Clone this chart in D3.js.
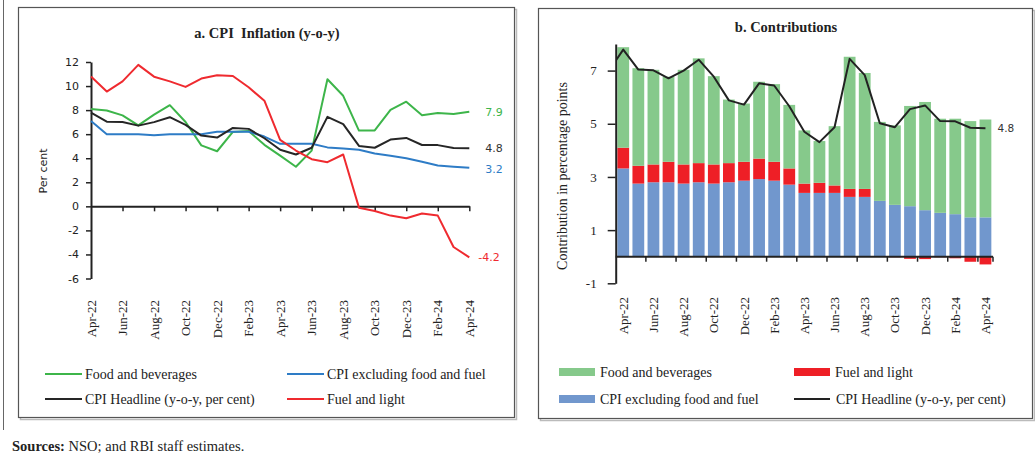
<!DOCTYPE html>
<html>
<head>
<meta charset="utf-8">
<script src="https://cdn.jsdelivr.net/npm/d3@7"></script>
<style>
body{margin:0;background:#fff;}
svg text{fill:#222;}
</style>
</head>
<body>
<div id="chart"></div>
<script>
// Months shown on both panels
var months = ["Apr-22","May-22","Jun-22","Jul-22","Aug-22","Sep-22","Oct-22","Nov-22","Dec-22","Jan-23","Feb-23","Mar-23",
	"Apr-23","May-23","Jun-23","Jul-23","Aug-23","Sep-23","Oct-23","Nov-23","Dec-23","Jan-24","Feb-24","Mar-24","Apr-24"];

// Panel a: y-o-y inflation, per cent
var foodBev  = [8.10,7.97,7.56,6.73,7.62,8.41,7.01,5.07,4.58,6.19,6.26,5.11,4.22,3.29,4.63,10.57,9.19,6.30,6.31,8.02,8.70,7.58,7.76,7.68,7.87];
var coreCpi  = [7.1,6.0,6.0,6.0,5.9,6.0,6.0,6.0,6.2,6.2,6.2,5.8,5.2,5.2,5.2,4.9,4.8,4.7,4.4,4.2,4.0,3.7,3.4,3.3,3.2];
var headline = [7.79,7.04,7.01,6.71,7.00,7.41,6.77,5.88,5.72,6.52,6.44,5.66,4.70,4.31,4.87,7.44,6.83,5.02,4.87,5.55,5.69,5.10,5.09,4.85,4.83];
var fuelLight= [10.80,9.54,10.39,11.76,10.78,10.39,9.93,10.62,10.90,10.84,9.90,8.78,5.52,4.64,3.92,3.67,4.31,-0.11,-0.39,-0.77,-0.99,-0.60,-0.77,-3.38,-4.24];
var leftTicks = [-6,-4,-2,0,2,4,6,8,10,12];

// Panel b: contributions, percentage points
var contribCore = [3.32,2.75,2.80,2.80,2.75,2.80,2.75,2.80,2.86,2.92,2.86,2.71,2.40,2.40,2.40,2.25,2.25,2.10,1.95,1.90,1.75,1.65,1.60,1.48,1.48];
var contribFuel = [0.78,0.67,0.67,0.77,0.72,0.72,0.72,0.72,0.71,0.77,0.71,0.61,0.35,0.38,0.28,0.30,0.30,-0.01,-0.02,-0.08,-0.09,-0.02,-0.06,-0.19,-0.29];
var contribFood = [3.78,3.67,3.56,3.20,3.56,3.94,3.32,2.39,2.19,2.89,2.92,2.39,2.00,1.57,2.23,4.97,4.36,2.97,2.99,3.77,4.07,3.54,3.59,3.62,3.68];
var headlinePrev = 6.95;   // Mar-22, only its cut-off segment shows at the left edge of panel b
var rightTicks = [-1,1,3,5,7];

var serif = "'Liberation Serif','Times New Roman',serif";
var sans = "'DejaVu Sans',Verdana,sans-serif";

var svg = d3.select("#chart").append("svg").attr("width",1035).attr("height",456);

// outer frame line on the left
svg.append("line").attr("x1",3.5).attr("x2",3.5).attr("y1",0).attr("y2",430)
	.attr("stroke","#666").attr("stroke-width",1);

function panelBox(x,y,w,h){
	svg.append("rect").attr("x",x+2).attr("y",y+2).attr("width",w).attr("height",h)
		.attr("fill","none").attr("stroke","#bbb").attr("stroke-width",1.5);
	svg.append("rect").attr("x",x).attr("y",y).attr("width",w).attr("height",h)
		.attr("fill","#fff").attr("stroke","#555").attr("stroke-width",1.2);
}

function evenMonths(){
	return months.filter(function(d,i){ return i%2==0; });
}

//////////////////////////////////// Panel a ///////////////////////////////

function drawLeft(){
	panelBox(18.5,7.5,496,410);
	var g = svg.append("g");
	var x = d3.scalePoint().domain(months).range([91,469.3]);
	var y = d3.scaleLinear().domain([-6,12]).range([278.5,62]);

	g.append("text").attr("x",267).attr("y",38).attr("text-anchor","middle")
		.style("font-family",serif).style("font-size","14.5px").style("font-weight","bold")
		.style("white-space","pre").text("a. CPI  Inflation (y-o-y)");

	var yAxis = g.append("g").attr("transform","translate(91,0)")
		.call(d3.axisLeft(y).tickValues(leftTicks).tickSize(5).tickSizeOuter(0).tickPadding(7)
			.tickFormat(function(d){ return String(d); }));
	yAxis.selectAll("text").style("font-family",sans).style("font-size","11px").style("fill","#222");
	yAxis.select(".domain").attr("stroke","#222").attr("stroke-width",2);
	yAxis.selectAll(".tick line").attr("stroke","#222").attr("stroke-width",1.5);

	g.append("text").attr("transform","translate(47,171) rotate(-90)").attr("text-anchor","middle")
		.style("font-family",sans).style("font-size","11px").text("Per cent");

	// x axis sits on zero, labels go below the plot
	var xAxis = g.append("g").attr("transform","translate(0,"+y(0)+")")
		.call(d3.axisBottom(x).tickValues(evenMonths().slice(1)).tickSize(5).tickSizeOuter(0).tickFormat(""));
	xAxis.select(".domain").attr("stroke","#222").attr("stroke-width",2);
	xAxis.selectAll(".tick line").attr("stroke","#222").attr("stroke-width",1.5);

	g.selectAll("text.xlab").data(evenMonths()).enter().append("text").attr("class","xlab")
		.attr("transform",function(d){ return "translate("+x(d)+",300) rotate(-90)"; })
		.attr("text-anchor","end").attr("dy","0.35em")
		.style("font-family",serif).style("font-size","13px").text(String);

	var series = [
		{vals:foodBev, color:"#3db54a", label:"7.9", dy:4},
		{vals:coreCpi, color:"#2e7cc6", label:"3.2", dy:5},
		{vals:headline, color:"#262626", label:"4.8", dy:4},
		{vals:fuelLight, color:"#ef2a2f", label:"-4.2", dy:4}
	];
	var line = d3.line().x(function(d,i){ return x(months[i]); }).y(function(d){ return y(d); });
	series.forEach(function(s){
		g.append("path").datum(s.vals).attr("d",line).attr("fill","none")
			.attr("stroke",s.color).attr("stroke-width",2).attr("stroke-linejoin","round");
		var last = s.vals[s.vals.length-1];
		g.append("text").attr("x",x(months[months.length-1])+(last<0?9:16)).attr("y",y(last)+s.dy)
			.style("font-family",sans).style("font-size","11px").style("fill",s.color=="#262626"?"#333":s.color)
			.text(s.label);
	});

	// legend
	var legend = [
		{name:"Food and beverages", color:"#3db54a", lx:45, ly:374},
		{name:"CPI excluding food and fuel", color:"#2e7cc6", lx:287, ly:374},
		{name:"CPI Headline (y-o-y, per cent)", color:"#262626", lx:45, ly:399},
		{name:"Fuel and light", color:"#ef2a2f", lx:287, ly:399}
	];
	legend.forEach(function(l){
		g.append("line").attr("x1",l.lx).attr("x2",l.lx+37).attr("y1",l.ly).attr("y2",l.ly)
			.attr("stroke",l.color).attr("stroke-width",2);
		g.append("text").attr("x",l.lx+40).attr("y",l.ly+4.5)
			.style("font-family",serif).style("font-size","14px").text(l.name);
	});
}

//////////////////////////////////// Panel b ///////////////////////////////

function drawRight(){
	panelBox(538.5,8.5,494,410);
	var g = svg.append("g");
	var x = d3.scaleBand().domain(months).range([615.7,993]).paddingInner(0.22).paddingOuter(0.11);
	var y = d3.scaleLinear().domain([-1,8]).range([283.3,44]);

	g.append("text").attr("x",786).attr("y",32).attr("text-anchor","middle")
		.style("font-family",serif).style("font-size","14.5px").style("font-weight","bold")
		.text("b. Contributions");

	var rows = months.map(function(m,i){
		return {month:m, core:contribCore[i], fuel:contribFuel[i], food:contribFood[i]};
	});
	var colors = {core:"#7197cd", fuel:"#ee1f26", food:"#86c98b"};
	var stacked = d3.stack().keys(["core","fuel","food"]).offset(d3.stackOffsetDiverging)(rows);

	g.selectAll("g.layer").data(stacked).enter().append("g").attr("class","layer")
		.attr("fill",function(d){ return colors[d.key]; })
		.selectAll("rect").data(function(d){ return d; }).enter().append("rect")
		.attr("x",function(d){ return x(d.data.month); })
		.attr("width",x.bandwidth())
		.attr("y",function(d){ return y(Math.max(d[0],d[1])); })
		.attr("height",function(d){ return Math.abs(y(d[0])-y(d[1])); });

	var yAxis = g.append("g").attr("transform","translate(615.7,0)")
		.call(d3.axisLeft(y).tickValues(rightTicks).tickSize(8).tickSizeOuter(0).tickPadding(11)
			.tickFormat(function(d){ return String(d); }));
	yAxis.selectAll("text").style("font-family",serif).style("font-size","13px").style("fill","#222");
	yAxis.select(".domain").attr("stroke","#222").attr("stroke-width",2);
	yAxis.selectAll(".tick line").attr("stroke","#222").attr("stroke-width",1.5);

	g.append("text").attr("transform","translate(567,176) rotate(-90)").attr("text-anchor","middle")
		.style("font-family",serif).style("font-size","14px").text("Contribution in percentage points");

	// x axis on zero, ticks between every second pair of bars
	var edge = x.step()*x.paddingInner()/2;
	var tickPos = evenMonths().slice(1).map(function(m){ return x(m)-edge; });
	tickPos.push(x.range()[1]);
	g.append("line").attr("x1",615.7).attr("x2",x.range()[1]).attr("y1",y(0)).attr("y2",y(0))
		.attr("stroke","#222").attr("stroke-width",2);
	g.selectAll("line.xt").data(tickPos).enter().append("line").attr("class","xt")
		.attr("x1",function(d){ return d; }).attr("x2",function(d){ return d; })
		.attr("y1",y(0)).attr("y2",y(0)+5).attr("stroke","#222").attr("stroke-width",1.5);

	g.selectAll("text.xlab").data(evenMonths()).enter().append("text").attr("class","xlab")
		.attr("transform",function(d){ return "translate("+(x(d)+x.bandwidth()/2)+",297) rotate(-90)"; })
		.attr("text-anchor","end").attr("dy","0.35em")
		.style("font-family",serif).style("font-size","13px").text(String);

	// headline line, clipped to the plot so the Mar-22 segment is cut at the axis
	svg.append("clipPath").attr("id","clipB").append("rect")
		.attr("x",616).attr("y",30).attr("width",400).attr("height",260);
	var pts = [{x:x(months[0])+x.bandwidth()/2-x.step(), v:headlinePrev}].concat(
		months.map(function(m,i){ return {x:x(m)+x.bandwidth()/2, v:headline[i]}; }));
	g.append("path").datum(pts).attr("clip-path","url(#clipB)")
		.attr("d",d3.line().x(function(d){ return d.x; }).y(function(d){ return y(d.v); }))
		.attr("fill","none").attr("stroke","#222").attr("stroke-width",2).attr("stroke-linejoin","round");
	g.append("text").attr("x",x(months[24])+x.bandwidth()/2+12).attr("y",y(headline[24])+4)
		.style("font-family",sans).style("font-size","10.5px").style("fill","#333").text("4.8");

	// legend
	var legend = [
		{name:"Food and beverages", color:colors.food, lx:559, ly:372, bar:true},
		{name:"Fuel and light", color:colors.fuel, lx:794, ly:372, bar:true},
		{name:"CPI excluding food and fuel", color:colors.core, lx:559, ly:399, bar:true},
		{name:"CPI Headline (y-o-y, per cent)", color:"#222", lx:794, ly:399, bar:false}
	];
	legend.forEach(function(l){
		if(l.bar){
			g.append("rect").attr("x",l.lx).attr("y",l.ly-4).attr("width",36).attr("height",8).attr("fill",l.color);
		} else {
			g.append("line").attr("x1",l.lx).attr("x2",l.lx+36).attr("y1",l.ly).attr("y2",l.ly)
				.attr("stroke",l.color).attr("stroke-width",2);
		}
		g.append("text").attr("x",l.lx+(l.bar?41:42)).attr("y",l.ly+4.5)
			.style("font-family",serif).style("font-size","14px").text(l.name);
	});
}

drawLeft();
drawRight();

// source note
var note = svg.append("text").attr("x",12).attr("y",451).style("font-family",serif).style("font-size","14.5px");
note.append("tspan").style("font-weight","bold").text("Sources:");
note.append("tspan").text(" NSO; and RBI staff estimates.");
</script>
</body>
</html>
